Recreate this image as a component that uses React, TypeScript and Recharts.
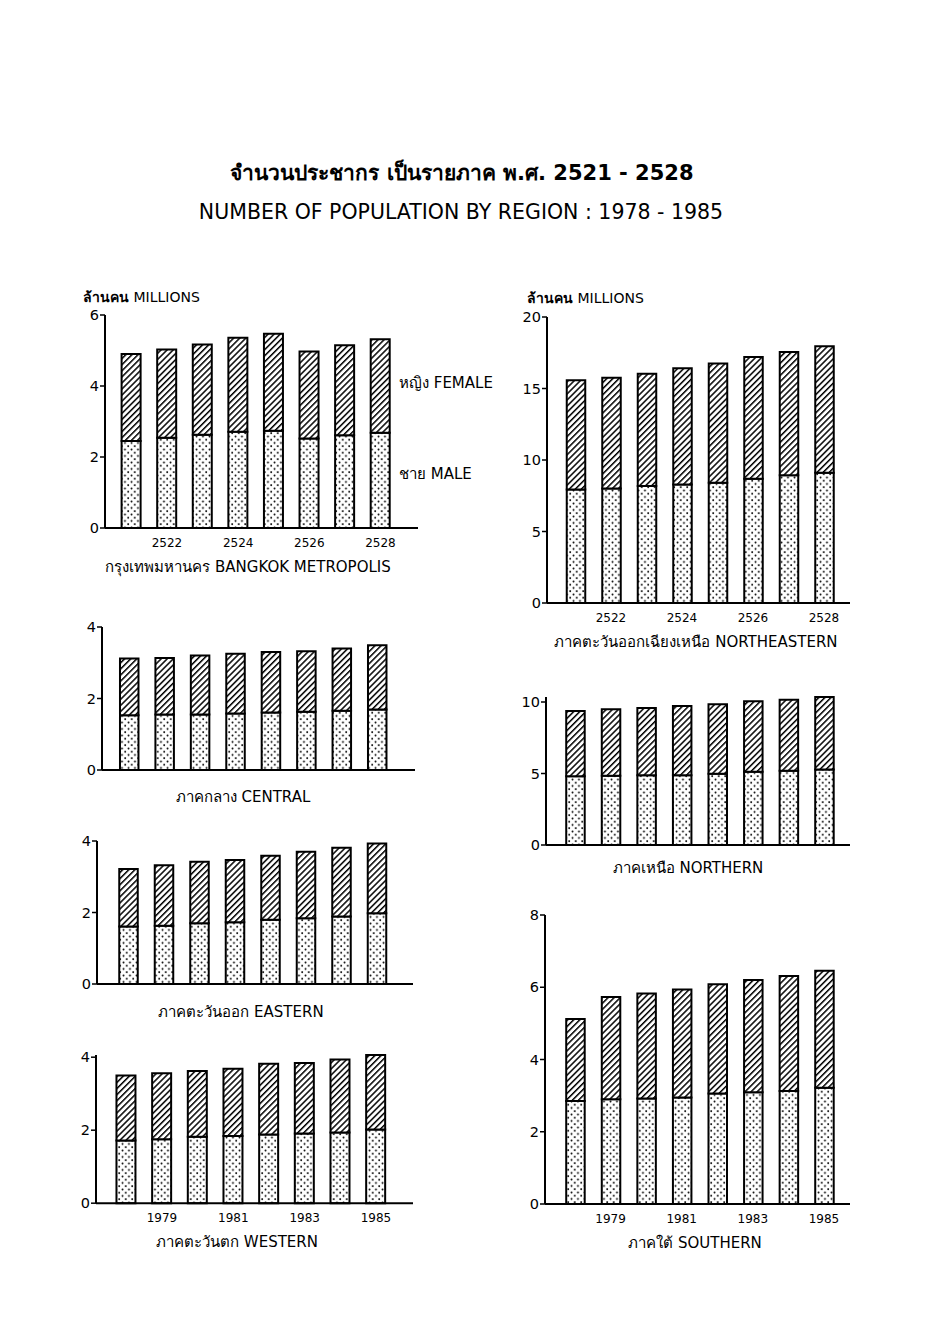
import React from "react";
import { Bar, BarChart, XAxis, YAxis } from "recharts";

document.body.style.margin = "0";

// years, Buddhist era and Gregorian
const YEARS_BE = ["2521", "2522", "2523", "2524", "2525", "2526", "2527", "2528"];
const YEARS_AD = ["1978", "1979", "1980", "1981", "1982", "1983", "1984", "1985"];

// millions of people
const BKK_MALE = [2.45, 2.54, 2.63, 2.71, 2.74, 2.52, 2.61, 2.68];
const BKK_FEMALE = [2.45, 2.49, 2.54, 2.65, 2.73, 2.45, 2.54, 2.64];

const NE_MALE = [7.93, 8.0, 8.18, 8.28, 8.41, 8.69, 8.93, 9.11];
const NE_FEMALE = [7.64, 7.76, 7.86, 8.13, 8.33, 8.51, 8.62, 8.84];

const CEN_MALE = [1.53, 1.55, 1.55, 1.58, 1.61, 1.63, 1.66, 1.69];
const CEN_FEMALE = [1.59, 1.58, 1.65, 1.67, 1.69, 1.69, 1.74, 1.8];

const EAST_MALE = [1.61, 1.63, 1.7, 1.73, 1.8, 1.84, 1.89, 1.98];
const EAST_FEMALE = [1.61, 1.69, 1.72, 1.74, 1.79, 1.86, 1.92, 1.95];

const WEST_MALE = [1.72, 1.75, 1.82, 1.84, 1.88, 1.91, 1.94, 2.02];
const WEST_FEMALE = [1.78, 1.81, 1.8, 1.84, 1.94, 1.93, 2.0, 2.04];

const NORTH_MALE = [4.81, 4.84, 4.88, 4.88, 4.98, 5.12, 5.19, 5.28];
const NORTH_FEMALE = [4.56, 4.65, 4.7, 4.84, 4.86, 4.93, 4.97, 5.07];

const SOUTH_MALE = [2.85, 2.9, 2.92, 2.95, 3.06, 3.09, 3.13, 3.22];
const SOUTH_FEMALE = [2.27, 2.83, 2.91, 2.99, 3.02, 3.11, 3.18, 3.24];

const TICKS_6 = [0, 2, 4, 6];
const TICKS_4 = [0, 2, 4];
const TICKS_20 = [0, 5, 10, 15, 20];
const TICKS_10 = [0, 5, 10];
const TICKS_8 = [0, 2, 4, 6, 8];

const FONT = "'DejaVu Sans', 'Noto Sans', sans-serif";

type Panel = {
  id: string;
  cats: string[];
  male: number[];
  female: number[];
  ticks: number[];
  max: number;
  labelled: boolean;
  // page geometry of the plot (y-axis x, axis end, top tick y, zero y, first/last bar centre)
  x0: number;
  x1: number;
  yTick: number;
  yZero: number;
  c0: number;
  c7: number;
  barW: number;
};

const PANELS: Panel[] = [
  { id: "bkk", cats: YEARS_BE, male: BKK_MALE, female: BKK_FEMALE, ticks: TICKS_6, max: 6, labelled: true,
    x0: 105, x1: 418, yTick: 315, yZero: 528, c0: 131.4, c7: 380.5, barW: 19 },
  { id: "ne", cats: YEARS_BE, male: NE_MALE, female: NE_FEMALE, ticks: TICKS_20, max: 20, labelled: true,
    x0: 547, x1: 850, yTick: 317, yZero: 603, c0: 575.5, c7: 824, barW: 18.5 },
  { id: "cen", cats: YEARS_BE, male: CEN_MALE, female: CEN_FEMALE, ticks: TICKS_4, max: 4, labelled: false,
    x0: 102, x1: 415, yTick: 627, yZero: 770, c0: 129.7, c7: 377.7, barW: 18.5 },
  { id: "east", cats: YEARS_BE, male: EAST_MALE, female: EAST_FEMALE, ticks: TICKS_4, max: 4, labelled: false,
    x0: 97, x1: 413, yTick: 841, yZero: 984, c0: 128, c7: 376.5, barW: 18.5 },
  { id: "west", cats: YEARS_AD, male: WEST_MALE, female: WEST_FEMALE, ticks: TICKS_4, max: 4.06, labelled: true,
    x0: 96, x1: 413, yTick: 1057, yZero: 1203, c0: 126.3, c7: 376, barW: 19 },
  { id: "north", cats: YEARS_BE, male: NORTH_MALE, female: NORTH_FEMALE, ticks: TICKS_10, max: 10.35, labelled: false,
    x0: 546, x1: 850, yTick: 702, yZero: 845, c0: 575, c7: 824, barW: 18.5 },
  { id: "south", cats: YEARS_AD, male: SOUTH_MALE, female: SOUTH_FEMALE, ticks: TICKS_8, max: 8, labelled: true,
    x0: 545, x1: 850, yTick: 915, yZero: 1204, c0: 575, c7: 824, barW: 18.5 },
];

const YW = 40;
const MT = 10;
const XH = 30;
const MR = 4;

function RegionChart({ p }: { p: Panel }) {
  const top = p.ticks[p.ticks.length - 1];
  const pxU = (p.yZero - p.yTick) / top;
  const plotTop = p.yZero - p.max * pxU;
  const plotH = p.yZero - plotTop;
  const plotW = p.x1 - p.x0;
  const band = (p.c7 - p.c0) / 7;
  const padL = p.c0 - band / 2 - p.x0;
  const padR = p.x1 - (p.c7 + band / 2);
  const data = p.cats.map((c, i) => ({ year: c, male: p.male[i], female: p.female[i] }));

  return (
    <div style={{ position: "absolute", left: p.x0 - YW, top: plotTop - MT }}>
      <BarChart
        width={YW + plotW + MR}
        height={MT + plotH + XH}
        data={data}
        margin={{ top: MT, right: MR, bottom: 0, left: 0 }}
      >
        <XAxis
          dataKey="year"
          height={XH}
          interval={0}
          padding={{ left: padL, right: padR }}
          axisLine={{ stroke: "#000", strokeWidth: 2 }}
          tickLine={false}
          tickMargin={4}
          tick={{ fill: "#000", fontSize: 12, fontFamily: FONT }}
          tickFormatter={(v: string, i: number) => (p.labelled && i % 2 === 1 ? v : "")}
        />
        <YAxis
          type="number"
          width={YW}
          domain={[0, p.max]}
          ticks={p.ticks}
          tickSize={5}
          tickMargin={1}
          axisLine={{ stroke: "#000", strokeWidth: 2 }}
          tickLine={{ stroke: "#000", strokeWidth: 1.5 }}
          tick={{ fill: "#000", fontSize: 14.5, fontFamily: FONT }}
        />
        <Bar dataKey="male" stackId="s" fill="url(#dots)" stroke="#000" strokeWidth={2} barSize={p.barW} isAnimationActive={false} />
        <Bar dataKey="female" stackId="s" fill="url(#hatch)" stroke="#000" strokeWidth={2} barSize={p.barW} isAnimationActive={false} />
      </BarChart>
    </div>
  );
}

function Txt({ x, y, size = 14, center = true, weight = 400, children }: {
  x: number; y: number; size?: number; center?: boolean; weight?: number; children: React.ReactNode;
}) {
  return (
    <div
      style={{
        position: "absolute",
        left: x,
        top: y,
        transform: center ? "translate(-50%, -50%)" : "translateY(-50%)",
        fontSize: size,
        fontWeight: weight,
        fontFamily: FONT,
        whiteSpace: "nowrap",
        color: "#000",
        lineHeight: 1,
      }}
    >
      {children}
    </div>
  );
}

export default function App() {
  return (
    <div style={{ position: "relative", width: 941, height: 1337, background: "#fff", overflow: "hidden" }}>
      <svg width={0} height={0} style={{ position: "absolute" }}>
        <defs>
          <pattern id="hatch" width={4.3} height={4.3} patternUnits="userSpaceOnUse" patternTransform="rotate(45)">
            <rect width={4.3} height={4.3} fill="#fff" />
            <line x1={0} y1={0} x2={0} y2={4.3} stroke="#000" strokeWidth={3} />
          </pattern>
          <pattern id="dots" width={6.5} height={6.5} patternUnits="userSpaceOnUse">
            <rect width={6.5} height={6.5} fill="#fff" />
            <circle cx={1.5} cy={1.5} r={0.95} fill="#000" />
            <circle cx={4.75} cy={4.75} r={0.95} fill="#000" />
          </pattern>
        </defs>
      </svg>

      <Txt x={462} y={173} size={21} weight={600}>จำนวนประชากร เป็นรายภาค พ.ศ. 2521 - 2528</Txt>
      <Txt x={461} y={212} size={20.5}>NUMBER OF POPULATION BY REGION : 1978 - 1985</Txt>

      {PANELS.map((p) => (
        <RegionChart key={p.id} p={p} />
      ))}

      <Txt x={83} y={297} size={14} center={false}><b>ล้านคน</b> MILLIONS</Txt>
      <Txt x={527} y={298} size={14} center={false}><b>ล้านคน</b> MILLIONS</Txt>

      <Txt x={399} y={383} size={15} center={false}>หญิง FEMALE</Txt>
      <Txt x={399} y={474} size={15} center={false}>ชาย MALE</Txt>

      <Txt x={248} y={567} size={15}>กรุงเทพมหานคร BANGKOK METROPOLIS</Txt>
      <Txt x={696} y={642} size={15}>ภาคตะวันออกเฉียงเหนือ NORTHEASTERN</Txt>
      <Txt x={243} y={797} size={15}>ภาคกลาง CENTRAL</Txt>
      <Txt x={241} y={1012} size={15}>ภาคตะวันออก EASTERN</Txt>
      <Txt x={237} y={1242} size={15}>ภาคตะวันตก WESTERN</Txt>
      <Txt x={688} y={868} size={15}>ภาคเหนือ NORTHERN</Txt>
      <Txt x={695} y={1243} size={15}>ภาคใต้ SOUTHERN</Txt>
    </div>
  );
}
